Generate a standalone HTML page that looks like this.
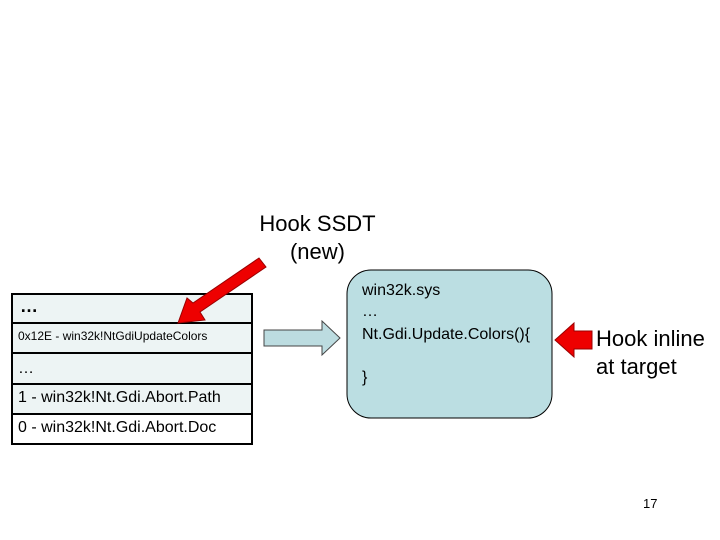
<!DOCTYPE html>
<html><head><style>
body{margin:0;width:720px;height:540px;background:#fff;position:relative;font-family:"Liberation Sans",sans-serif;overflow:hidden}
.t{position:absolute;white-space:nowrap;color:#000}
</style></head><body>
<svg width="720" height="540" style="position:absolute;left:0;top:0">
<g stroke="#000" stroke-width="2" fill="#edf4f4">
<rect x="12" y="294" width="240" height="29"/>
<rect x="12" y="323" width="240" height="30"/>
<rect x="12" y="353" width="240" height="31"/>
<rect x="12" y="384" width="240" height="30"/>
<rect x="12" y="414" width="240" height="30" fill="#fff"/>
</g>
<rect x="347" y="270" width="205" height="148" rx="24" fill="#bbdee2" stroke="#000" stroke-width="1"/>
<polygon points="264,330 322,330 322,321 340,338 322,355 322,346 264,346" fill="#bcdce0" stroke="#444" stroke-width="1"/>
<polygon points="555,340 574,323 574,331 592,331 592,349 574,349 574,357" fill="#e00" stroke="#900" stroke-width="1"/>
<polygon points="259,258 266,267 200,312 205,320 178,323 187,298 193,303" fill="#e00" stroke="#900" stroke-width="1"/>
</svg>
<div class="t" style="left:20px;top:296px;font-size:18px;font-weight:bold">…</div>
<div class="t" style="left:18px;top:329px;font-size:12px">0x12E - win32k!NtGdiUpdateColors</div>
<div class="t" style="left:18px;top:360px;font-size:16px">…</div>
<div class="t" style="left:18px;top:389px;font-size:16px">1 - win32k!Nt.Gdi.Abort.Path</div>
<div class="t" style="left:18px;top:419px;font-size:16px">0 - win32k!Nt.Gdi.Abort.Doc</div>
<div class="t" style="left:362px;top:282px;font-size:16px">win32k.sys</div>
<div class="t" style="left:362px;top:303px;font-size:16px">…</div>
<div class="t" style="left:362px;top:326px;font-size:16px">Nt.Gdi.Update.Colors(){</div>
<div class="t" style="left:362px;top:369px;font-size:16px">}</div>
<div class="t" style="left:596px;top:325px;font-size:22px;line-height:28px">Hook inline<br>at target</div>
<div class="t" style="left:235px;top:210px;width:165px;text-align:center;font-size:22px;line-height:28px">Hook SSDT<br>(new)</div>
<div class="t" style="left:643px;top:496px;font-size:13px">17</div>
</body></html>
